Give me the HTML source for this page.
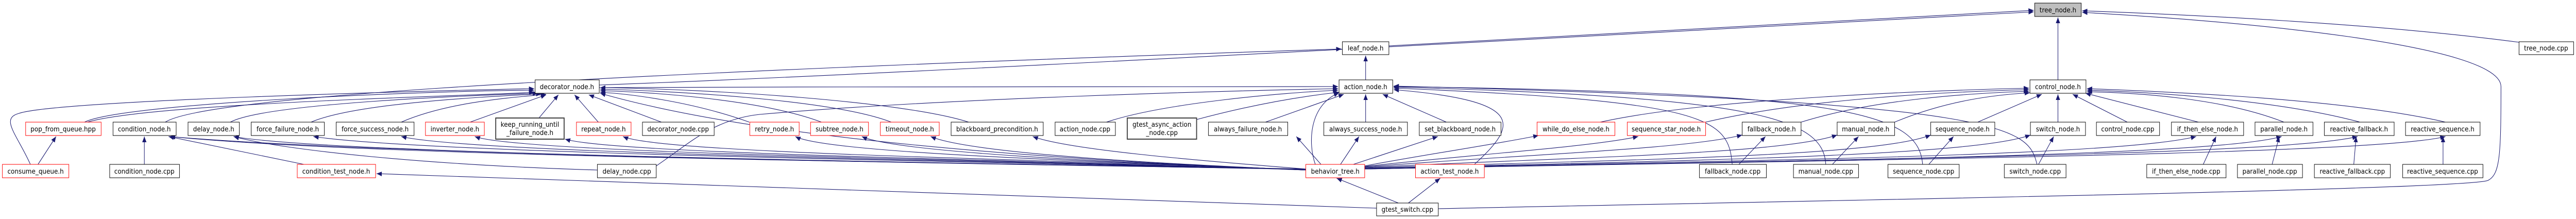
<!DOCTYPE html>
<html><head><meta charset="utf-8">
<style>
html,body{margin:0;padding:0;background:#fff;width:100%;height:100%;overflow:hidden;}
svg{display:block;width:100vw;height:100vh;}
text{font-family:"DejaVu Sans","Liberation Sans",sans-serif;font-size:13px;fill:#000;text-anchor:middle;}
.b{fill:#fff;stroke:#000;stroke-width:1;}
.r{fill:#fff;stroke:#ff0000;stroke-width:1;}
.g{fill:#fff;stroke:#404040;stroke-width:2;}
.t{fill:#bfbfbf;stroke:#000;stroke-width:1;}
.e{fill:none;stroke:#191970;stroke-width:1.1;marker-end:url(#a);}
</style></head><body>
<svg viewBox="0 0 5425 425" preserveAspectRatio="none" xmlns="http://www.w3.org/2000/svg">
<defs><marker id="a" markerUnits="userSpaceOnUse" markerWidth="12" markerHeight="10" refX="11" refY="4.5" orient="auto"><path d="M0,0 L11,4.5 L0,9 z" fill="#191970"/></marker></defs>
<g>
<path class="e" d="M4334,155 L4334,34"/>
<path class="e" d="M5305,82 C5000,45 4600,28 4385,21"/>
<path class="e" d="M3029,405 C3800,390 5200,368 5240,350 C5265,338 5267,300 5267,168 C5267,85 4700,40 4385,24"/>
<path class="e" d="M1262,165 C2000,140 3500,62 4283,23"/>
<path class="e" d="M2925,89 C3500,62 4000,36 4283,20"/>
<path class="e" d="M2876,155 L2876,108"/>
<path class="e" d="M348,237 C420,195 1000,150 2825,95"/>
<path class="e" d="M64,319 C35,260 0,230 40,220 C120,195 900,176 1125,172"/>
<path class="e" d="M178,237 C260,200 900,176 1125,175"/>
<path class="e" d="M184,237 C320,200 1000,186 1125,179"/>
<path class="e" d="M485,237 C560,200 1000,185 1133,181"/>
<path class="e" d="M655,237 C750,200 1020,188 1140,182"/>
<path class="e" d="M845,237 C950,195 1100,188 1150,183"/>
<path class="e" d="M990,237 L1150,184"/>
<path class="e" d="M1135,229 L1176,184"/>
<path class="e" d="M1260,237 L1210,184"/>
<path class="e" d="M1393,237 L1240,184"/>
<path class="e" d="M1578,237 C1450,195 1320,182 1264,179"/>
<path class="e" d="M1730,237 C1600,192 1360,178 1264,176"/>
<path class="e" d="M1877,237 C1750,192 1400,176 1264,173"/>
<path class="e" d="M2040,237 C1900,196 1500,173 1264,170"/>
<path class="e" d="M2750,330 C2200,310 1600,270 1264,181"/>
<path class="e" d="M1262,170 C1800,168 2400,168 2818,168"/>
<path class="e" d="M1382,322 C1450,280 1500,232 1600,222 C2000,190 2600,176 2818,172"/>
<path class="e" d="M2330,237 C2450,200 2700,180 2818,175"/>
<path class="e" d="M2520,232 C2650,200 2750,186 2820,179"/>
<path class="e" d="M2665,237 L2830,183"/>
<path class="e" d="M2876,237 L2876,183"/>
<path class="e" d="M3046,237 L2912,183"/>
<path class="e" d="M2770,319 C2755,280 2755,205 2820,180"/>
<path class="e" d="M3105,319 C3200,240 3210,195 2935,174"/>
<path class="e" d="M3648,319 C3640,230 3600,196 2935,171"/>
<path class="e" d="M3845,319 C3840,230 3700,188 2935,169"/>
<path class="e" d="M4049,319 C4040,220 3900,180 2935,168"/>
<path class="e" d="M4290,319 C4270,250 4250,198 2935,167"/>
<path class="e" d="M3370,237 C3600,190 4100,175 4273,171"/>
<path class="e" d="M3592,237 C3800,192 4100,178 4273,174"/>
<path class="e" d="M3793,237 C3950,192 4150,181 4273,177"/>
<path class="e" d="M3990,237 C4100,195 4200,184 4275,180"/>
<path class="e" d="M4165,237 L4300,183"/>
<path class="e" d="M4334,237 L4334,183"/>
<path class="e" d="M4480,237 L4365,183"/>
<path class="e" d="M4630,237 L4392,181"/>
<path class="e" d="M4810,237 C4680,190 4500,180 4395,178"/>
<path class="e" d="M4970,237 C4780,190 4500,178 4395,175"/>
<path class="e" d="M5150,237 C4920,188 4500,176 4395,172"/>
<path class="e" d="M80,319 L118,265"/>
<path class="e" d="M304,319 L304,265"/>
<path class="e" d="M640,319 L355,265"/>
<path class="e" d="M1258,330 C900,320 600,292 492,265"/>
<path class="e" d="M3662,319 L3718,265"/>
<path class="e" d="M3859,319 L3914,265"/>
<path class="e" d="M4062,319 L4114,265"/>
<path class="e" d="M4293,319 L4325,265"/>
<path class="e" d="M4640,319 L4667,265"/>
<path class="e" d="M4785,319 L4800,265"/>
<path class="e" d="M4957,319 L4962,265"/>
<path class="e" d="M5145,319 L5145,265"/>
<path class="e" d="M2750,328 C2000,315 800,305 357,265"/>
<path class="e" d="M2750,328 C2000,318 800,300 358,265"/>
<path class="e" d="M2750,329 C2000,315 700,300 492,265"/>
<path class="e" d="M2750,329 C2000,312 900,298 660,265"/>
<path class="e" d="M2750,329 C2000,310 1000,298 845,265"/>
<path class="e" d="M2750,329 C2100,310 1100,298 1000,265"/>
<path class="e" d="M2750,330 C2200,310 1300,300 1190,270"/>
<path class="e" d="M2750,330 C2300,310 1400,300 1312,265"/>
<path class="e" d="M2750,330 C2400,315 1750,300 1675,265"/>
<path class="e" d="M2750,330 C2450,318 1900,300 1815,265"/>
<path class="e" d="M2750,330 C2500,320 2050,300 1960,265"/>
<path class="e" d="M2750,328 C2500,310 2250,290 2175,265"/>
<path class="e" d="M2782,319 L2730,265"/>
<path class="e" d="M2823,319 L2862,265"/>
<path class="e" d="M2850,319 L3028,265"/>
<path class="e" d="M2874,322 C3000,300 3150,280 3240,263"/>
<path class="e" d="M2874,323 C3100,300 3350,285 3450,265"/>
<path class="e" d="M2874,324 C3200,300 3550,290 3669,262"/>
<path class="e" d="M2874,325 C3300,305 3750,300 3869,262"/>
<path class="e" d="M2874,326 C3400,310 3950,305 4066,262"/>
<path class="e" d="M2874,327 C3500,312 4150,305 4276,262"/>
<path class="e" d="M2874,327 C3600,312 4450,305 4625,265"/>
<path class="e" d="M2874,328 C3700,312 4650,305 4805,265"/>
<path class="e" d="M2874,328 C3800,310 4800,302 4965,265"/>
<path class="e" d="M2874,328 C3900,310 5000,300 5150,265"/>
<path class="e" d="M2945,394 L2815,346"/>
<path class="e" d="M2966,394 L3033,346"/>
<path class="e" d="M2899,404 C2000,380 1200,355 793,337"/>
</g>
<g>
<rect class="t" x="4285" y="6" width="98" height="26"/><text x="4334" y="24">tree_node.h</text>
<rect class="b" x="2827" y="81" width="98" height="25"/><text x="2876" y="98">leaf_node.h</text>
<rect class="b" x="5305" y="81" width="115" height="25"/><text x="5362" y="98">tree_node.cpp</text>
<rect class="b" x="1127" y="155" width="135" height="26"/><text x="1194" y="173">decorator_node.h</text>
<rect class="b" x="2820" y="155" width="113" height="26"/><text x="2876" y="173">action_node.h</text>
<rect class="b" x="4275" y="155" width="118" height="26"/><text x="4334" y="173">control_node.h</text>

<rect class="r" x="54" y="237" width="159" height="26"/><text x="133" y="255">pop_from_queue.hpp</text>
<rect class="b" x="238" y="237" width="133" height="26"/><text x="304" y="255">condition_node.h</text>
<rect class="b" x="396" y="237" width="108" height="26"/><text x="450" y="255">delay_node.h</text>
<rect class="b" x="529" y="237" width="154" height="26"/><text x="606" y="255">force_failure_node.h</text>
<rect class="b" x="708" y="237" width="164" height="26"/><text x="790" y="255">force_success_node.h</text>
<rect class="r" x="896" y="237" width="124" height="26"/><text x="958" y="255">inverter_node.h</text>
<rect class="g" x="1044" y="229" width="144" height="41"/><text x="1116" y="246">keep_running_until</text><text x="1116" y="262">_failure_node.h</text>
<rect class="r" x="1214" y="237" width="115" height="26"/><text x="1271" y="255">repeat_node.h</text>
<rect class="b" x="1353" y="237" width="151" height="26"/><text x="1428" y="255">decorator_node.cpp</text>
<rect class="r" x="1579" y="237" width="104" height="26"/><text x="1631" y="255">retry_node.h</text>
<rect class="r" x="1707" y="237" width="122" height="26"/><text x="1768" y="255">subtree_node.h</text>
<rect class="r" x="1854" y="237" width="124" height="26"/><text x="1916" y="255">timeout_node.h</text>
<rect class="b" x="2003" y="237" width="194" height="26"/><text x="2100" y="255">blackboard_precondition.h</text>
<rect class="b" x="2222" y="237" width="127" height="26"/><text x="2285" y="255">action_node.cpp</text>
<rect class="g" x="2374" y="229" width="146" height="41"/><text x="2447" y="246">gtest_async_action</text><text x="2447" y="262">_node.cpp</text>
<rect class="b" x="2545" y="237" width="167" height="26"/><text x="2628" y="255">always_failure_node.h</text>
<rect class="b" x="2788" y="237" width="176" height="26"/><text x="2876" y="255">always_success_node.h</text>
<rect class="b" x="2989" y="237" width="172" height="26"/><text x="3075" y="255">set_blackboard_node.h</text>
<rect class="r" x="3237" y="237" width="164" height="26"/><text x="3319" y="255">while_do_else_node.h</text>
<rect class="r" x="3427" y="237" width="165" height="26"/><text x="3509" y="255">sequence_star_node.h</text>
<rect class="b" x="3669" y="237" width="124" height="26"/><text x="3731" y="255">fallback_node.h</text>
<rect class="b" x="3869" y="237" width="121" height="26"/><text x="3929" y="255">manual_node.h</text>
<rect class="b" x="4066" y="237" width="135" height="26"/><text x="4133" y="255">sequence_node.h</text>
<rect class="b" x="4276" y="237" width="116" height="26"/><text x="4334" y="255">switch_node.h</text>
<rect class="b" x="4415" y="237" width="133" height="26"/><text x="4481" y="255">control_node.cpp</text>
<rect class="b" x="4573" y="237" width="152" height="26"/><text x="4649" y="255">if_then_else_node.h</text>
<rect class="b" x="4749" y="237" width="122" height="26"/><text x="4810" y="255">parallel_node.h</text>
<rect class="b" x="4895" y="237" width="147" height="26"/><text x="4968" y="255">reactive_fallback.h</text>
<rect class="b" x="5066" y="237" width="157" height="26"/><text x="5144" y="255">reactive_sequence.h</text>

<rect class="r" x="5" y="319" width="140" height="26"/><text x="75" y="337">consume_queue.h</text>
<rect class="b" x="231" y="319" width="147" height="26"/><text x="304" y="337">condition_node.cpp</text>
<rect class="r" x="626" y="319" width="165" height="26"/><text x="708" y="337">condition_test_node.h</text>
<rect class="b" x="1258" y="319" width="124" height="26"/><text x="1320" y="337">delay_node.cpp</text>
<rect class="r" x="2750" y="319" width="124" height="26"/><text x="2812" y="337">behavior_tree.h</text>
<rect class="r" x="2981" y="319" width="145" height="26"/><text x="3053" y="337">action_test_node.h</text>
<rect class="b" x="3579" y="319" width="141" height="26"/><text x="3649" y="337">fallback_node.cpp</text>
<rect class="b" x="3777" y="319" width="137" height="26"/><text x="3845" y="337">manual_node.cpp</text>
<rect class="b" x="3976" y="319" width="150" height="26"/><text x="4051" y="337">sequence_node.cpp</text>
<rect class="b" x="4221" y="319" width="130" height="26"/><text x="4286" y="337">switch_node.cpp</text>
<rect class="b" x="4521" y="319" width="167" height="26"/><text x="4604" y="337">if_then_else_node.cpp</text>
<rect class="b" x="4712" y="319" width="137" height="26"/><text x="4780" y="337">parallel_node.cpp</text>
<rect class="b" x="4874" y="319" width="160" height="26"/><text x="4954" y="337">reactive_fallback.cpp</text>
<rect class="b" x="5060" y="319" width="169" height="26"/><text x="5144" y="337">reactive_sequence.cpp</text>

<rect class="b" x="2899" y="394" width="130" height="25"/><text x="2964" y="411">gtest_switch.cpp</text>
</g>
</svg>
</body></html>
